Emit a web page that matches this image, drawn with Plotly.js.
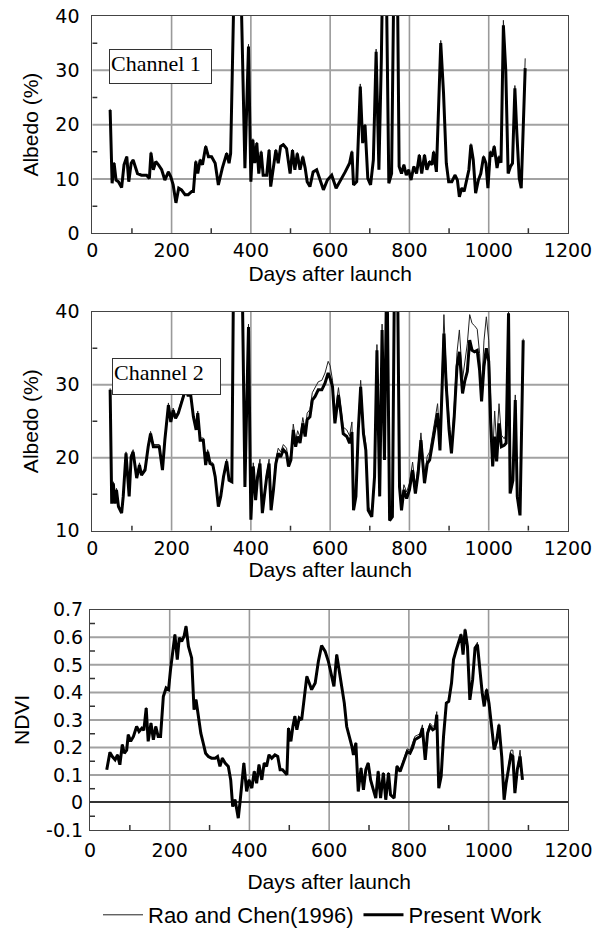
<!DOCTYPE html>
<html>
<head>
<meta charset="utf-8">
<script src="https://cdn.plot.ly/plotly-3.0.1.min.js"></script>
<style>
  html, body { margin: 0; padding: 0; background: #ffffff; }
  #chart { width: 592px; height: 936px; }
</style>
</head>
<body>
<div id="chart"></div>
<script>
// ---------------- Channel 1 albedo (%) ----------------
const ch1Days = [45,50,55,60,66,74,80,87,92,98,103,108,114,124,137,144,148,154,160,167,175,183,192,198,204,211,218,225,234,242,251,255,261,266,272,278,286,293,301,310,318,328,339,345,349,366,385,394,400,405,410,415,420,426,431,440,446,450,457,463,469,475,482,490,499,505,511,517,524,531,537,542,549,557,566,574,583,593,604,615,625,638,649,655,659,667,676,682,688,695,702,709,716,723,729,735,742,748,755,762,768,774,780,786,792,798,804,811,818,825,831,838,844,851,857,861,868,879,886,893,899,907,915,921,926,932,938,944,950,955,961,967,974,980,987,993,998,1004,1008,1014,1021,1026,1031,1037,1043,1049,1055,1060,1066,1071,1077,1082,1092];
const ch1Present = [22.7,9.2,12.9,9.8,9.5,8.4,12.6,14.1,9.5,12.9,13.5,12.3,11,10.7,10.7,10.1,14.8,11.7,13.2,12.6,11.7,9.8,11.3,10.4,8.9,5.6,8.3,8,7.1,7.1,7.7,7.7,13.2,11,13.5,12.6,16,14.1,14.1,12.9,8.9,12,14.7,12.9,14.7,76,12,34.4,9.5,17.2,12.9,16.6,11,15,10.7,10.7,15.3,8.6,12.3,15.3,12.9,16,16.3,15.6,11,15.3,11.7,14.7,11.7,14.1,12,9.5,8.6,11.3,11.7,10,8,9.8,10.7,8.3,9.5,11.3,12.9,15,8.9,9.5,27,16.6,19.9,10.1,8.9,13.5,33.4,11.7,31.6,60,45,9.2,11,55,60,12.3,11,12.6,10.7,11.7,9.8,12.3,11,14.4,11,14.4,11.7,13.2,12.6,15,11.3,35,25.8,12.9,9.5,9.5,10.7,9.8,6.7,8.3,7.7,9.5,11.7,16.3,13.5,7.4,9.8,11,14.1,12.9,8.3,15,14.1,16,12,14.1,13,38.3,30,11,12.3,12.9,26.7,18.4,10.1,8.3,30.4];
const ch1Rao = [22.9,9.3,13.1,9.9,9.6,8.5,12.8,14.2,9.6,13.1,13.6,12.4,11.1,10.8,10.8,10.2,15,11.8,13.3,12.7,11.8,9.9,11.4,10.5,9,5.7,8.4,8.1,7.2,7.2,7.8,7.8,13.4,11.1,13.7,12.8,16.2,14.3,14.2,13,9,12.1,14.9,13,14.9,77,12.1,34.8,9.6,17.4,13,16.8,11.1,15.2,10.8,10.8,15.5,8.7,12.4,15.5,13,16.2,16.5,15.8,11.1,15.5,11.8,14.9,11.8,14.3,12.1,9.6,8.7,11.4,11.8,10.1,8.1,9.9,10.8,8.4,9.6,11.4,13,15.2,9,9.6,27.5,16.8,20.1,10.2,9,13.7,33.9,11.8,32,61,46,9.3,11.1,56,61,12.4,11.1,12.7,10.8,11.8,9.9,12.4,11.1,14.6,11.1,14.6,11.8,13.4,12.7,15.2,11.4,35.5,26.2,13,9.6,9.6,10.8,9.9,6.8,8.4,7.8,9.6,11.8,16.5,13.7,7.5,9.9,11.1,14.3,13,8.4,15.2,14.3,16.2,12.1,14.3,13.2,39.2,30.6,11.1,12.4,13,27.2,18.6,10.2,8.4,32.2];

// ---------------- Channel 2 albedo (%) ----------------
const ch2Days = [45,49,53,57,61,66,74,78,85,93,98,103,112,119,124,133,141,147,154,162,169,177,183,192,198,204,210,217,223,230,236,242,246,255,262,266,272,280,286,291,297,304,310,318,324,331,339,345,352,360,372,385,394,400,406,412,417,423,429,434,440,446,451,457,463,469,475,482,490,495,501,507,513,518,524,531,537,542,549,555,562,570,579,587,595,600,606,612,621,627,633,642,649,655,659,665,671,677,684,690,696,705,712,718,725,731,737,743,750,757,763,770,775,780,786,793,800,808,815,822,829,838,845,851,858,865,871,877,883,887,893,900,906,913,920,926,934,940,946,952,958,964,971,977,982,988,994,1000,1005,1010,1015,1020,1026,1032,1039,1044,1050,1054,1061,1067,1072,1079,1087];
const ch2Present = [29.3,13.7,16.5,13.7,15.6,13.3,12.4,14.7,20.6,14.7,20.1,20.8,17.2,19,17.6,18.3,21.5,23.3,21.5,21.5,21.5,18.3,22.4,27.2,24.9,26.5,25.4,26.1,27.2,28.4,29.5,28.4,29.6,25.6,23.8,26.1,22.4,22.4,19,20.8,19.2,19,17.4,13.3,14.7,17.4,19.5,16.9,16.7,70,70,16,37.9,11.5,18.8,14.2,17.4,19.2,12.4,14.7,17.4,19.2,12.8,15.6,19.2,20.6,20.1,21.1,20.6,18.8,19.7,23.8,21.5,22.9,22,24.7,22.9,25.2,25.6,27.9,28.4,29.3,29.3,30.2,31.6,30.9,29.7,24.7,28.6,26.1,23.3,22.9,22,23.5,12.8,14.7,23.8,29.7,23.3,21,12.8,11.9,17.4,34.7,14.7,37.5,19.7,48,11.4,11.9,50,45,16,12.8,15.6,14.4,15.6,18.3,15.1,17.9,22.4,16.5,19.2,19.7,22,23.8,26.1,21,29.7,37,29.7,23.8,20.6,25.6,32.5,34.5,28.8,30.6,31.8,36.1,34.7,34.5,34.7,32,27.7,32.5,35,33.2,24.7,18.8,22.9,19.5,24.7,21.5,21.7,22,39.8,15.1,16.9,27.9,14.7,12.1,36.1];
const ch2Rao = [29.5,13.9,16.7,13.9,15.8,13.5,12.6,14.9,20.8,14.9,20.4,21.1,17.4,19.3,17.9,18.6,21.8,23.6,21.8,21.8,21.8,18.6,22.7,27.5,25.2,26.8,25.7,26.4,27.5,28.7,29.8,28.7,29.9,25.9,24.1,26.4,22.7,22.7,19.3,21.1,19.5,19.3,17.7,13.5,14.9,17.7,19.8,17.2,17,71,71,16.3,38.3,11.7,19.3,14.6,17.9,19.8,12.7,15.1,17.9,19.8,13.2,16.1,19.8,21.3,20.8,21.8,21.3,19.5,20.4,24.6,22.3,23.7,22.8,25.5,23.7,26.1,26.6,28.9,29.6,30.4,30.6,31.6,33.2,32.6,30.6,26,29.6,27.1,24.2,23.8,23,24.9,13.4,15.4,24.6,30.6,24.2,21.9,13.3,12.4,18.1,35.5,15.3,38.3,20.4,49,11.8,12.3,51,46,16.6,13.4,16.3,15.3,16.5,19.4,16,19,23.4,17.5,20.2,20.8,23.1,25,27.4,22.2,31.1,39.6,31.4,25.2,21.6,27.1,34.4,37.5,30.8,32.9,35.6,39.6,38.4,38.1,37.6,34.3,29.3,36,39.3,36.1,27,20.2,26.4,21.9,27.4,23.1,22.6,23.2,40,15.6,17.4,28.6,15.2,12.5,36.3];

// ---------------- NDVI ----------------
const ndviDays = [42,46,50,56,63,69,75,81,86,92,96,102,109,117,123,130,135,141,146,153,159,165,171,177,184,191,197,202,207,213,219,224,230,236,241,247,255,261,266,272,278,284,290,297,305,314,320,326,332,339,347,353,358,364,372,377,381,386,393,399,406,412,418,424,431,437,443,449,456,464,471,477,483,494,498,504,509,514,519,525,531,537,544,550,556,565,573,581,590,598,606,612,619,625,632,638,644,651,657,661,667,673,680,686,692,698,704,711,717,723,729,736,742,749,754,763,770,778,785,790,796,803,809,815,822,828,834,841,847,853,860,866,870,875,881,887,894,900,907,912,919,925,931,936,941,947,953,960,966,972,978,984,989,995,1001,1008,1014,1020,1026,1033,1039,1044,1050,1056,1061,1066,1072,1079,1085];
const ndviPresent = [0.119,0.149,0.182,0.167,0.155,0.173,0.137,0.21,0.179,0.19,0.246,0.222,0.24,0.276,0.258,0.27,0.262,0.343,0.222,0.288,0.228,0.276,0.24,0.24,0.385,0.416,0.41,0.482,0.543,0.61,0.519,0.598,0.585,0.604,0.64,0.567,0.525,0.337,0.373,0.313,0.252,0.216,0.179,0.167,0.161,0.161,0.167,0.131,0.161,0.143,0.131,0.082,-0.015,0.01,-0.057,0.01,0.082,0.143,0.04,0.082,0.052,0.113,0.07,0.137,0.082,0.143,0.131,0.173,0.161,0.173,0.167,0.119,0.119,0.101,0.27,0.222,0.276,0.313,0.264,0.307,0.3,0.373,0.458,0.434,0.41,0.434,0.513,0.57,0.549,0.513,0.464,0.422,0.537,0.482,0.422,0.361,0.276,0.24,0.204,0.173,0.216,0.04,0.125,0.046,0.119,0.143,0.082,0.046,0.016,0.113,0.016,0.107,0.01,0.107,0.028,0.016,0.131,0.113,0.143,0.167,0.185,0.179,0.198,0.228,0.234,0.24,0.27,0.155,0.252,0.276,0.264,0.27,0.319,0.052,0.095,0.24,0.361,0.367,0.434,0.519,0.555,0.579,0.61,0.537,0.628,0.567,0.373,0.446,0.561,0.573,0.47,0.398,0.349,0.41,0.361,0.276,0.192,0.222,0.282,0.167,0.01,0.07,0.131,0.173,0.167,0.034,0.119,0.167,0.082];
const ndviRao = [0.121,0.151,0.184,0.169,0.157,0.175,0.139,0.212,0.181,0.192,0.248,0.224,0.242,0.278,0.26,0.272,0.264,0.345,0.224,0.29,0.23,0.278,0.242,0.242,0.387,0.418,0.412,0.484,0.545,0.612,0.521,0.6,0.587,0.606,0.642,0.569,0.527,0.339,0.375,0.315,0.254,0.218,0.181,0.169,0.163,0.163,0.169,0.133,0.163,0.145,0.133,0.084,-0.013,0.012,-0.055,0.012,0.084,0.145,0.042,0.084,0.054,0.115,0.072,0.139,0.084,0.145,0.133,0.175,0.163,0.175,0.169,0.121,0.121,0.103,0.272,0.224,0.278,0.315,0.266,0.309,0.302,0.375,0.46,0.436,0.412,0.436,0.515,0.572,0.551,0.515,0.466,0.424,0.539,0.484,0.424,0.363,0.278,0.242,0.206,0.175,0.218,0.042,0.127,0.048,0.121,0.145,0.084,0.048,0.018,0.115,0.018,0.109,0.012,0.109,0.03,0.018,0.135,0.12,0.15,0.175,0.195,0.19,0.212,0.24,0.245,0.25,0.282,0.165,0.262,0.288,0.276,0.282,0.33,0.056,0.099,0.246,0.365,0.37,0.438,0.522,0.558,0.582,0.613,0.54,0.631,0.57,0.378,0.45,0.565,0.582,0.475,0.403,0.353,0.414,0.365,0.28,0.196,0.226,0.286,0.17,0.012,0.075,0.14,0.19,0.19,0.036,0.125,0.19,0.086];

// ---------------- Axis ranges, ticks and labels ----------------
const dayRange = [0, 1200];
const ch1Range = [0, 40];
const ch2Range = [10, 40];
const ndviRange = [-0.1, 0.7];
const dayTicks = [0,200,400,600,800,1000,1200];
const dayTickLabels = ['0','200','400','600','800','1000','1200'];
const dayMinorTicks = [100,300,500,700,900,1100];
const ch1Ticks = [0,10,20,30,40];
const ch1TickLabels = ['0','10','20','30','40'];
const ch1MinorTicks = [5,15,25,35];
const ch2Ticks = [10,20,30,40];
const ch2TickLabels = ['10','20','30','40'];
const ch2MinorTicks = [15,25,35];
const ndviTicks = [-0.1,0,0.1,0.2,0.3,0.4,0.5,0.6,0.7];
const ndviTickLabels = ['-0.1','0','0.1','0.2','0.3','0.4','0.5','0.6','0.7'];
const ndviMinorTicks = [-0.05,0.05,0.15,0.25,0.35,0.45,0.55,0.65];
const seriesNames = ['Rao and Chen(1996)', 'Present Work'];
const panelLabels = ['Channel 1', 'Channel 2'];
const xTitle = 'Days after launch';
const yTitles = ['Albedo (%)', 'Albedo (%)', 'NDVI'];

// panel frames in pixels (left, right, top, bottom)
const W = 592, H = 936;
const frames = [
  {l: 92.3, r: 568, t: 16, b: 233.3},
  {l: 92.3, r: 568, t: 311.7, b: 530.7},
  {l: 90, r: 568.3, t: 609.8, b: 830}
];

const tickFont = () => ({family: 'DejaVu Sans, Arial, sans-serif', size: 19, color: '#000'});
const titleFont = () => ({family: 'Liberation Sans, Arial, sans-serif', size: 21, color: '#000'});
const gridColor = '#9a9a9a';
const hGridColor = '#a2a2a2';

function xAxis(fr, anchor, gap, titleStandoff) {
  return {
    domain: [fr.l / W, fr.r / W], anchor: anchor, range: dayRange.slice(),
    tickmode: 'array', tickvals: dayTicks, ticktext: dayTickLabels,
    ticks: gap > 0 ? 'outside' : '', ticklen: gap, tickcolor: 'rgba(0,0,0,0)',
    ticklabeloverflow: 'allow',
    showgrid: false, zeroline: false,
    showline: true, linecolor: '#444', linewidth: 1, mirror: true,
    tickfont: tickFont(),
    title: {text: xTitle, font: titleFont(), standoff: titleStandoff}
  };
}
function yAxis(fr, anchor, range, tv, tt, title, gap, titleStandoff) {
  return {
    domain: [1 - fr.b / H, 1 - fr.t / H], anchor: anchor, range: range.slice(),
    tickmode: 'array', tickvals: tv, ticktext: tt,
    ticks: 'outside', ticklen: gap, tickcolor: 'rgba(0,0,0,0)',
    showgrid: false, zeroline: false,
    showline: true, linecolor: '#444', linewidth: 1, mirror: true,
    tickfont: tickFont(),
    title: {text: title, font: titleFont(), standoff: titleStandoff}
  };
}

// grid lines and small inside tick marks, placed through each subplot's own axes
const shapes = [];
function gridAndMinor(fr, xa, ya, yTicks, yMinor, yRange) {
  const minorLen = 5; // px
  const dxMinor = (dayRange[1] - dayRange[0]) * minorLen / (fr.r - fr.l);
  const dyMinor = (yRange[1] - yRange[0]) * minorLen / (fr.b - fr.t);
  dayTicks.filter(v => v > dayRange[0] && v < dayRange[1]).forEach(v => shapes.push({
    type: 'line', layer: 'below', xref: xa, yref: ya, x0: v, x1: v, y0: yRange[0], y1: yRange[1],
    line: {color: gridColor, width: 1.6}}));
  yTicks.filter(v => v > yRange[0] && v < yRange[1]).forEach(v => shapes.push({
    type: 'line', layer: 'below', xref: xa, yref: ya, x0: dayRange[0], x1: dayRange[1], y0: v, y1: v,
    line: {color: hGridColor, width: 2}}));
  dayMinorTicks.forEach(v => shapes.push({
    type: 'line', layer: 'above', xref: xa, yref: ya,
    x0: v, x1: v, y0: yRange[0], y1: yRange[0] + dyMinor, line: {color: '#333', width: 1.5}}));
  yMinor.forEach(v => shapes.push({
    type: 'line', layer: 'above', xref: xa, yref: ya,
    x0: dayRange[0], x1: dayRange[0] + dxMinor, y0: v, y1: v, line: {color: '#333', width: 1.5}}));
}
gridAndMinor(frames[0], 'x', 'y', ch1Ticks, ch1MinorTicks, ch1Range);
gridAndMinor(frames[1], 'x2', 'y2', ch2Ticks, ch2MinorTicks, ch2Range);
gridAndMinor(frames[2], 'x3', 'y3', ndviTicks.filter(v => v !== 0), ndviMinorTicks, ndviRange);

const thin = {color: '#222', width: 1};
const thick = {color: '#000', width: 3};

const traces = [
  {x: ch1Days, y: ch1Rao, xaxis: 'x', yaxis: 'y', mode: 'lines', line: thin, name: seriesNames[0], legendgroup: 'r', showlegend: true},
  {x: ch1Days, y: ch1Present, xaxis: 'x', yaxis: 'y', mode: 'lines', line: thick, name: seriesNames[1], legendgroup: 'p', showlegend: true},
  {x: ch2Days, y: ch2Rao, xaxis: 'x2', yaxis: 'y2', mode: 'lines', line: thin, name: seriesNames[0], legendgroup: 'r', showlegend: false},
  {x: ch2Days, y: ch2Present, xaxis: 'x2', yaxis: 'y2', mode: 'lines', line: thick, name: seriesNames[1], legendgroup: 'p', showlegend: false},
  {x: ndviDays, y: ndviRao, xaxis: 'x3', yaxis: 'y3', mode: 'lines', line: thin, name: seriesNames[0], legendgroup: 'r', showlegend: false},
  {x: ndviDays, y: ndviPresent, xaxis: 'x3', yaxis: 'y3', mode: 'lines', line: thick, name: seriesNames[1], legendgroup: 'p', showlegend: false}
];

const layout = {
  width: W, height: H,
  margin: {l: 0, r: 0, t: 0, b: 0},
  paper_bgcolor: '#ffffff', plot_bgcolor: '#ffffff',
  showlegend: true,
  legend: {
    orientation: 'h', x: 323 / W, xanchor: 'center', y: 1 - 915 / H, yanchor: 'middle',
    font: {family: 'Liberation Sans, Arial, sans-serif', size: 22, color: '#000'},
    traceorder: 'normal', itemwidth: 40, bgcolor: 'rgba(0,0,0,0)'
  },
  xaxis: xAxis(frames[0], 'y', 0, 6),
  yaxis: yAxis(frames[0], 'x', ch1Range, ch1Ticks, ch1TickLabels, yTitles[0], 8, 10),
  xaxis2: xAxis(frames[1], 'y2', 0, 2),
  yaxis2: yAxis(frames[1], 'x2', ch2Range, ch2Ticks, ch2TickLabels, yTitles[1], 8, 10),
  xaxis3: xAxis(frames[2], 'y3', 3, 14),
  yaxis3: yAxis(frames[2], 'x3', ndviRange, ndviTicks, ndviTickLabels, yTitles[2], 2, 10),
  shapes: shapes,
  annotations: [
    {text: panelLabels[0], xref: 'paper', yref: 'paper', x: 109.3 / W, y: 1 - 49.3 / H,
     xanchor: 'left', yanchor: 'top', showarrow: false, align: 'left', valign: 'top',
     width: 99, height: 31, borderpad: 1, bordercolor: '#333', borderwidth: 1, bgcolor: '#ffffff',
     font: {family: 'Liberation Serif, Times New Roman, serif', size: 22, color: '#000'}},
    {text: panelLabels[1], xref: 'paper', yref: 'paper', x: 111.7 / W, y: 1 - 358 / H,
     xanchor: 'left', yanchor: 'top', showarrow: false, align: 'left', valign: 'top',
     width: 105, height: 33, borderpad: 1, bordercolor: '#333', borderwidth: 1, bgcolor: '#ffffff',
     font: {family: 'Liberation Serif, Times New Roman, serif', size: 22, color: '#000'}}
  ]
};
layout.yaxis3.zeroline = true;
layout.yaxis3.zerolinecolor = '#333';
layout.yaxis3.zerolinewidth = 1.5;

Plotly.newPlot('chart', traces, layout, {displayModeBar: false});
</script>
</body>
</html>
